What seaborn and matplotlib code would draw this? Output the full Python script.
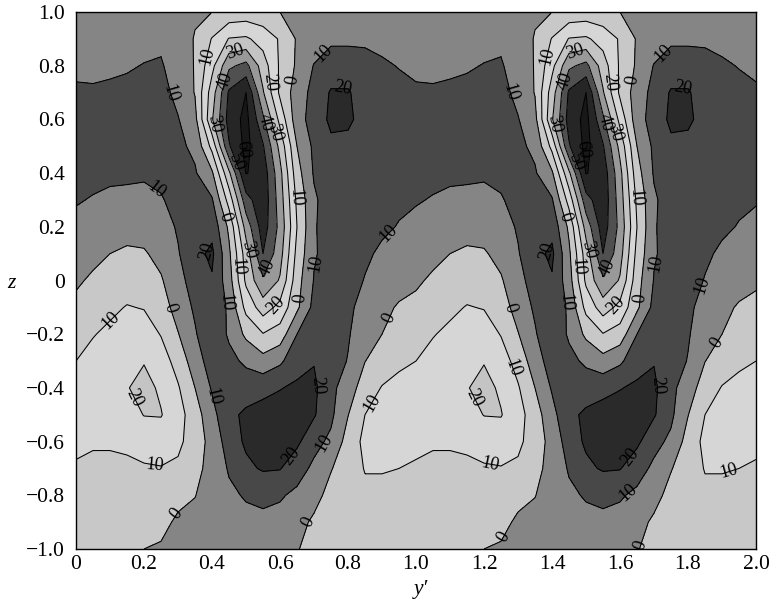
import numpy as np
import matplotlib
matplotlib.use("Agg")
import matplotlib.pyplot as plt
import seaborn as sns

# z runs from -1 to 1, one list per y' position over a single period
z_values = [-1.0, -0.9, -0.8, -0.7, -0.6, -0.5, -0.4, -0.3, -0.2, -0.1, 0.0,
            0.1, 0.2, 0.3, 0.4, 0.5, 0.6, 0.7, 0.8, 0.9, 1.0]
y_period = [0.0, 0.05, 0.1, 0.15, 0.2, 0.25, 0.3, 0.35, 0.4, 0.45,
            0.5, 0.55, 0.6, 0.65, 0.7, 0.75, 0.8, 0.85, 0.9, 0.95]

col_00 = [-5, -6, -7, -9, -12, -14, -13, -10, -6, -2.3, 1.4, 4.5, 8, 10.6, 12, 13, 12.5, 11, 8.5, 6, 4]
col_05 = [-5, -6.5, -8, -9, -10.5, -13.5, -14.5, -13, -9.5, -5, -1.5, 2.5, 6, 9.5, 12, 13.5, 13, 11, 8, 6, 4]
col_10 = [-4, -6, -8, -9, -10.5, -14, -16, -15, -12, -8, -4, 0, 4, 8, 12, 14, 14, 11.5, 8.5, 6.5, 4]
col_15 = [-3, -5, -7, -9, -11, -16, -19.5, -18, -15, -10.5, -5.5, -1.5, 3.5, 8, 11.5, 14, 14.5, 12, 9.2, 6.5, 4]
col_20 = [0, -3, -6, -9, -14, -20.3, -23, -19.5, -15, -9.5, -5, -1, 4, 8, 11, 14, 15, 13, 10.3, 7.5, 4]
col_25 = [1, -2.5, -6, -9.5, -15, -20.5, -18.5, -15, -9.5, -4.7, -1, 3, 6, 9.5, 11.5, 13, 14, 13, 11, 8, 4]
col_30 = [4, 1.5, -2.5, -8, -12.5, -14, -11, -6, -0.5, 4, 7, 9.3, 11, 12, 13, 12, 10.5, 7.5, 5, 4, 3]
col_35 = [6, 3, -0.3, -2.5, -4.5, -4.5, 0, 5, 9, 11.5, 14, 17, 17, 15, 11, 8, 3, -0.5, -0.5, -0.5, 1]
col_40 = [7, 6.5, 5, 3, 3, 6.7, 11, 15, 18, 19, 19, 22, 17, 11, 1.5, -13, -29, -25, -17, -10.5, 0]
col_45 = [5, 6, 8, 11, 15, 18, 16, 13, 8.5, 8, 4.5, 2, -2, -14, -28, -49, -54, -51.5, -38, -20.5, -3]
col_50 = [5, 7, 11, 18, 21.5, 21.5, 16, 8, -2, -13, -22, -25, -34, -46, -60.5, -63, -63, -60, -43, -21.5, -4]
col_55 = [5, 8, 12, 21, 26, 24, 17, 3.7, -9.5, -25, -38.5, -50, -55, -57, -56, -51, -42, -31, -25, -16, -3]
col_60 = [5, 7, 11, 20.5, 25, 24, 19.6, 8.2, -5.5, -17, -29, -34, -37, -35, -33, -27, -17, -8, -8.5, -9, 0]
col_65 = [0.5, 3, 8, 14, 22, 23, 21.5, 16.5, 10, -2, -4, -7, -10, -8, -4, 0, 6, 5, 1.5, 1, 1.5]
col_70 = [-3, -1.5, 3, 8, 13, 21, 22, 19.5, 15, 13, 10.5, 9, 9, 8.5, 11, 12, 14, 13, 10.5, 4, 3]
col_75 = [-5, -4, -3, 0.5, 8, 12, 12.5, 15, 16, 16, 14.5, 14, 15, 15, 16, 18, 22, 21, 14, 8.5, 4]
col_80 = [-7, -7, -6, -5, -4, 0.3, 5, 9.5, 11, 12, 12.5, 13, 14, 14.5, 15, 17, 22, 21, 14, 8.5, 4]
col_85 = [-7, -7, -8, -10.5, -12.5, -10, -5, 0.2, 3.5, 6.5, 9.7, 11, 12, 12.5, 13, 14, 16, 15, 13, 8.5, 4]
col_90 = [-6, -6.5, -8, -10.5, -13.5, -13, -10.5, -5, 0, 2.5, 5.5, 9, 11, 12, 12.5, 13, 14, 13, 11, 8, 4]
col_95 = [-5, -6, -8, -10, -13, -14, -11.5, -9, -5, -1, 3.7, 7, 9.7, 11, 12, 13, 13, 12, 9.7, 7, 4]

levels = [-70, -60, -50, -40, -30, -20, -10, 0, 10, 20, 30]
band_colors = ['#181818', '#262626', '#505050', '#999999', '#c4c4c4', '#d6d6d6',
               '#c8c8c8', '#858585', '#484848', '#2a2a2a']

x_ticks = [0, 0.2, 0.4, 0.6, 0.8, 1.0, 1.2, 1.4, 1.6, 1.8, 2.0]
x_ticklabels = ['0', '0.2', '0.4', '0.6', '0.8', '1.0', '1.2', '1.4', '1.6', '1.8', '2.0']
z_ticks = [-1.0, -0.8, -0.6, -0.4, -0.2, 0, 0.2, 0.4, 0.6, 0.8, 1.0]
z_ticklabels = ['\u22121.0', '\u22120.8', '\u22120.6', '\u22120.4', '\u22120.2', '0',
                '0.2', '0.4', '0.6', '0.8', '1.0']

# where the contour labels sit, first period then second
labels_first = [(0.38, 0.836), (0.468, 0.858), (0.432, 0.747), (0.632, 0.747), (0.58, 0.74),
                (0.4, 0.58), (0.547, 0.586), (0.585, 0.55), (0.485, 0.486), (0.473, 0.437),
                (0.285, 0.70), (0.24, 0.348), (0.723, 0.851), (0.785, 0.724), (0.644, 0.307),
                (0.44, 0.237), (0.5, 0.114), (0.473, 0.05), (0.388, 0.106), (0.565, 0.047),
                (0.7, 0.065), (0.585, -0.09), (0.653, -0.065), (0.433, -0.084),
                (0.094, -0.14), (0.279, -0.10), (0.174, -0.438), (0.403, -0.434),
                (0.232, -0.676), (0.306, -0.877), (0.712, -0.389), (0.723, -0.60),
                (0.638, -0.661), (0.683, -0.9), (0.87, -0.456), (0.924, 0.17), (0.932, -0.147)]
labels_second = [(1.38, 0.836), (1.468, 0.858), (1.432, 0.747), (1.632, 0.747), (1.58, 0.74),
                 (1.4, 0.58), (1.547, 0.586), (1.585, 0.55), (1.485, 0.486), (1.473, 0.437),
                 (1.276, 0.70), (1.723, 0.851), (1.785, 0.724), (1.644, 0.307), (1.44, 0.237),
                 (1.5, 0.114), (1.473, 0.05), (1.388, 0.106), (1.565, 0.047), (1.7, 0.065),
                 (1.585, -0.09), (1.653, -0.065), (1.433, -0.084), (1.283, -0.326),
                 (1.279, -0.10), (1.176, -0.434), (1.22, -0.672), (1.256, -0.955),
                 (1.85, -0.02), (1.885, -0.233), (1.712, -0.389), (1.638, -0.665),
                 (1.624, -0.79), (1.921, -0.717), (1.668, -0.99)]

sns.set_theme(style="white")
plt.rcParams['font.family'] = ['Liberation Serif', 'DejaVu Serif']

columns = [col_00, col_05, col_10, col_15, col_20, col_25, col_30, col_35, col_40, col_45,
           col_50, col_55, col_60, col_65, col_70, col_75, col_80, col_85, col_90, col_95]

# the pattern repeats with period 1 in y'
period = np.array(columns, dtype=float).T
field = np.hstack([period, period, period[:, :1]])
y_prime = np.concatenate([y_period, np.array(y_period) + 1, [2.0]])
z = np.array(z_values)

fig = plt.figure(figsize=(7.72, 6.04), dpi=100)
ax = fig.add_axes([76 / 772, 1 - 549 / 604, 680 / 772, 537 / 604])

ax.contourf(y_prime, z, field, levels=levels, colors=band_colors)
lines = ax.contour(y_prime, z, field, levels=levels, colors='black', linewidths=0.75,
                   linestyles='solid')
texts = ax.clabel(lines, levels=levels, inline=False, fontsize=13, colors='black',
                  fmt=lambda v: f'{abs(v):.0f}', manual=labels_first + labels_second)

ax.set_xlim(0, 2)
ax.set_ylim(-1, 1)
ax.set_xticks(x_ticks, x_ticklabels)
ax.set_yticks(z_ticks, z_ticklabels)
ax.tick_params(length=0, labelsize=15.5, colors='black')
ax.tick_params(axis='x', pad=4)
ax.tick_params(axis='y', pad=8)
ax.set_xlabel("y\u2032", fontsize=15.5, style='italic', color='black', va='top')
ax.set_ylabel("z", fontsize=15.5, style='italic', color='black', rotation=0, va='center', ha='center')
ax.xaxis.set_label_coords(0.507, -0.0575)
ax.yaxis.set_label_coords(-0.0956, 0.495)
sns.despine(ax=ax, top=False, right=False)
for spine in ax.spines.values():
    spine.set_color('black')
    spine.set_linewidth(1.0)

fig.savefig("out.png", dpi=100)
